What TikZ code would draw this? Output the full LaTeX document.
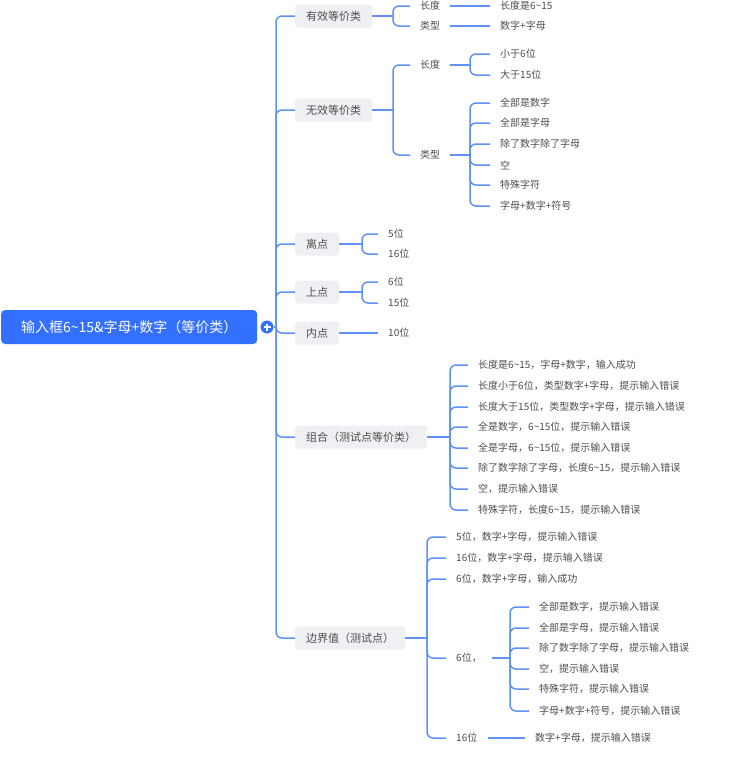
\documentclass[tikz,border=0pt]{standalone}
\usepackage{fontspec}
\setmainfont{Noto Sans CJK SC}
\usepackage{xcolor}
\usetikzlibrary{positioning}
\definecolor{rootblue}{HTML}{3370FF}
\definecolor{lineblue}{HTML}{5E92F7}
\definecolor{topicgray}{HTML}{EEF0F3}
\definecolor{inkgray}{HTML}{4D4D4D}

\begin{document}
\begin{tikzpicture}[
  x=1pt, y=-1pt,
  font=\fontsize{10}{12}\selectfont,
  rootbox/.style={fill=rootblue, text=white, rounded corners=4pt, anchor=west,
                  minimum width=256pt, minimum height=34pt, font=\fontsize{14}{16}\selectfont},
  topic/.style={fill=topicgray, text=inkgray, rounded corners=3pt, anchor=west,
                minimum height=23pt, inner xsep=11pt, font=\fontsize{11}{13}\selectfont},
  leaf/.style={text=inkgray, anchor=west, inner xsep=10pt, inner ysep=1pt},
  link/.style={draw=lineblue, line width=1.5pt, rounded corners=6pt},
]
\useasboundingbox (0,0) rectangle (734,761);

% root
\node[rootbox] (root) at (1,327) {输入框6\textasciitilde15\&字母+数字（等价类）};
\node[circle, fill=rootblue, draw=white, line width=0.8pt, minimum size=14pt, inner sep=0pt] (plus) at (267,327) {};
\draw[white, line width=1.3pt] ([xshift=-3.5pt]plus.center) -- ([xshift=3.5pt]plus.center)
                               ([yshift=-3.5pt]plus.center) -- ([yshift=3.5pt]plus.center);

% first level
\node[topic] (valid) at (295,16) {有效等价类};
\node[topic] (invalid) at (295,110) {无效等价类};
\node[topic] (offpt) at (295,244) {离点};
\node[topic] (onpt) at (295,292) {上点};
\node[topic] (inpt) at (295,333) {内点};
\node[topic] (combo) at (295,437) {组合（测试点等价类）};
\node[topic] (bound) at (295,638) {边界值（测试点）};

% valid classes
\node[leaf] (vlen) at (410,6) {长度};
\node[leaf] (vtype) at (410,26) {类型};
\node[leaf] (vlenx) at (490,6) {长度是6\textasciitilde15};
\node[leaf] (vtypex) at (490,26) {数字+字母};

% invalid classes
\node[leaf] (ilen) at (410,65) {长度};
\node[leaf] (itype) at (410,155) {类型};
\node[leaf] (ilen1) at (490,54) {小于6位};
\node[leaf] (ilen2) at (490,75) {大于15位};
\node[leaf] (itype1) at (490,103) {全部是数字};
\node[leaf] (itype2) at (490,123) {全部是字母};
\node[leaf] (itype3) at (490,144) {除了数字除了字母};
\node[leaf] (itype4) at (490,165) {空};
\node[leaf] (itype5) at (490,185) {特殊字符};
\node[leaf] (itype6) at (490,206) {字母+数字+符号};

% off / on / in points
\node[leaf] (off1) at (378,234) {5位};
\node[leaf] (off2) at (378,254) {16位};
\node[leaf] (on1) at (378,282) {6位};
\node[leaf] (on2) at (378,303) {15位};
\node[leaf] (in1) at (378,333) {10位};

% combinations
\node[leaf] (combo1) at (468,365) {长度是6\textasciitilde15，字母+数字，输入成功};
\node[leaf] (combo2) at (468,386) {长度小于6位，类型数字+字母，提示输入错误};
\node[leaf] (combo3) at (468,407) {长度大于15位，类型数字+字母，提示输入错误};
\node[leaf] (combo4) at (468,427) {全是数字，6\textasciitilde15位，提示输入错误};
\node[leaf] (combo5) at (468,448) {全是字母，6\textasciitilde15位，提示输入错误};
\node[leaf] (combo6) at (468,468) {除了数字除了字母，长度6\textasciitilde15，提示输入错误};
\node[leaf] (combo7) at (468,489) {空，提示输入错误};
\node[leaf] (combo8) at (468,510) {特殊字符，长度6\textasciitilde15，提示输入错误};

% boundary values
\node[leaf] (bound1) at (446,537) {5位，数字+字母，提示输入错误};
\node[leaf] (bound2) at (446,558) {16位，数字+字母，提示输入错误};
\node[leaf] (bound3) at (446,579) {6位，数字+字母，输入成功};
\node[leaf] (bound4) at (446,658) {6位，};
\node[leaf] (bound5) at (446,738) {16位};
\node[leaf] (bsub1) at (529,607) {全部是数字，提示输入错误};
\node[leaf] (bsub2) at (529,628) {全部是字母，提示输入错误};
\node[leaf] (bsub3) at (529,648) {除了数字除了字母，提示输入错误};
\node[leaf] (bsub4) at (529,669) {空，提示输入错误};
\node[leaf] (bsub5) at (529,689) {特殊字符，提示输入错误};
\node[leaf] (bsub6) at (529,711) {字母+数字+符号，提示输入错误};
\node[leaf] (bound5x) at (525,738) {数字+字母，提示输入错误};

% connectors
\draw[link] (plus.east) -- (276,327) coordinate (trunk);
\foreach \t in {valid,invalid,offpt,onpt,inpt,combo,bound}
  \draw[link] (trunk) |- (\t.west);

\draw[link] (valid.east) -- (393,16) coordinate (vsplit);
\foreach \t in {vlen,vtype} \draw[link] (vsplit) |- (\t.west);
\draw[link] (vlen.east) -- (vlenx.west);
\draw[link] (vtype.east) -- (vtypex.west);

\draw[link] (invalid.east) -- (393,110) coordinate (isplit);
\foreach \t in {ilen,itype} \draw[link] (isplit) |- (\t.west);
\draw[link] (ilen.east) -- (470,65) coordinate (lsplit);
\foreach \t in {ilen1,ilen2} \draw[link] (lsplit) |- (\t.west);
\draw[link] (itype.east) -- (470,155) coordinate (tsplit);
\foreach \t in {itype1,itype2,itype3,itype4,itype5,itype6} \draw[link] (tsplit) |- (\t.west);

\draw[link] (offpt.east) -- (362,244) coordinate (osplit);
\foreach \t in {off1,off2} \draw[link] (osplit) |- (\t.west);
\draw[link] (onpt.east) -- (362,292) coordinate (nsplit);
\foreach \t in {on1,on2} \draw[link] (nsplit) |- (\t.west);
\draw[link] (inpt.east) -- (in1.west);

\draw[link] (combo.east) -- (450,437) coordinate (csplit);
\foreach \t in {combo1,combo2,combo3,combo4,combo5,combo6,combo7,combo8}
  \draw[link] (csplit) |- (\t.west);

\draw[link] (bound.east) -- (427,638) coordinate (bsplit);
\foreach \t in {bound1,bound2,bound3,bound4,bound5} \draw[link] (bsplit) |- (\t.west);
\draw[link] (bound4.east) -- (510,658) coordinate (ssplit);
\foreach \t in {bsub1,bsub2,bsub3,bsub4,bsub5,bsub6} \draw[link] (ssplit) |- (\t.west);
\draw[link] (bound5.east) -- (bound5x.west);
\end{tikzpicture}
\end{document}
